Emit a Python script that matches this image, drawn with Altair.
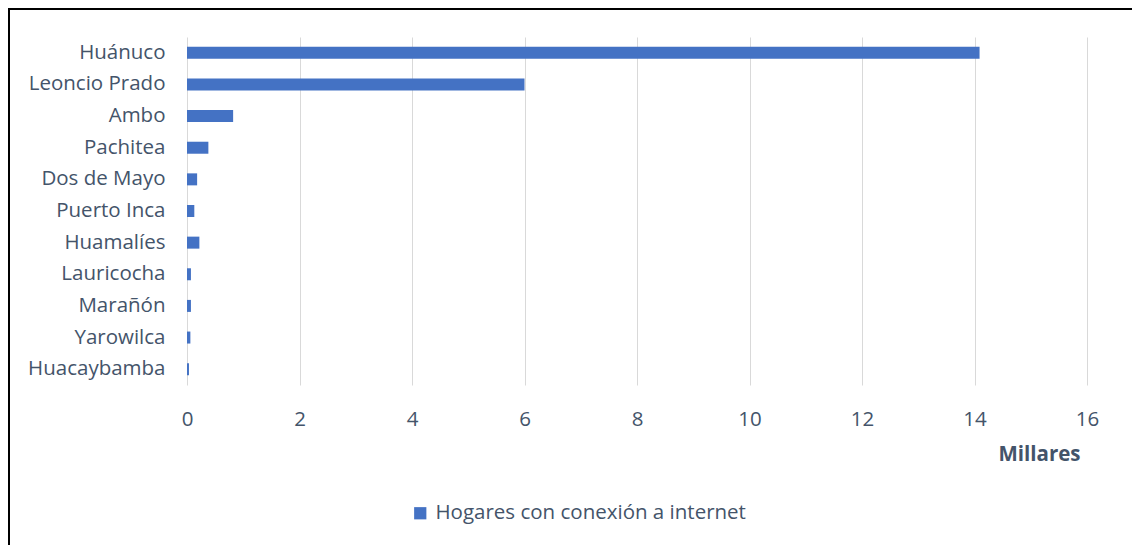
import altair as alt
import pandas as pd

provincias = ["Huánuco", "Leoncio Prado", "Ambo", "Pachitea", "Dos de Mayo", "Puerto Inca",
              "Huamalíes", "Lauricocha", "Marañón", "Yarowilca", "Huacaybamba"]
hogares_miles = [14.09, 6.0, 0.82, 0.38, 0.18, 0.13, 0.22, 0.07, 0.07, 0.06, 0.035]
serie = "Hogares con conexión a internet"
x_ticks = [0, 2, 4, 6, 8, 10, 12, 14, 16]

df = pd.DataFrame({"provincia": provincias, "valor": hogares_miles, "serie": [serie] * len(provincias)})

FONT = "Open Sans"
TXT = "#44546A"
FS = 20.5

bars = alt.Chart(df).mark_bar(size=12).encode(
    x=alt.X("valor:Q",
            scale=alt.Scale(domain=[0, 16], nice=False, zero=True),
            axis=alt.Axis(values=x_ticks, title="Millares", grid=True, gridColor="#D9D9D9",
                          domain=False, ticks=False, labelPadding=24, labelFontSize=FS,
                          labelFont=FONT, labelColor=TXT, labelFlush=False,
                          titleFont=FONT, titleFontSize=FS, titleFontWeight="bold",
                          titleColor=TXT, titleAlign="right", titleAnchor="end",
                          titleX=893, titleY=75, titleBaseline="alphabetic")),
    y=alt.Y("provincia:N", sort=provincias,
            scale=alt.Scale(paddingInner=0, paddingOuter=0),
            axis=alt.Axis(title=None, domain=False, ticks=False, labelPadding=22,
                          labelFontSize=FS, labelFont=FONT, labelColor=TXT, labelLimit=0)),
    color=alt.Color("serie:N", scale=alt.Scale(range=["#4472C4"]),
                    legend=alt.Legend(title=None, orient="none", legendX=223, legendY=466,
                                      symbolType="square", symbolSize=150,
                                      symbolStrokeWidth=0, labelFontSize=FS, labelFont=FONT,
                                      labelColor=TXT, labelOffset=5, labelLimit=0)),
)

border = pd.DataFrame({"a": [0]})
left_line = alt.Chart(border).mark_rule(color="black", strokeWidth=2, clip=False).encode(
    x=alt.value(-178), y=alt.value(-29), y2=alt.value(520),
)
top_line = alt.Chart(border).mark_rule(color="black", strokeWidth=2, clip=False).encode(
    x=alt.value(-179), x2=alt.value(960), y=alt.value(-28),
)

chart = alt.layer(left_line, top_line, bars).properties(
    width=900, height=348,
    padding={"left": 179, "top": 29, "right": 45, "bottom": 160},
    autosize=alt.AutoSizeParams(type="none"),
).configure(background="white").configure_view(stroke=None)

chart.save("out.html", embed_options={"renderer": "svg", "actions": False})
